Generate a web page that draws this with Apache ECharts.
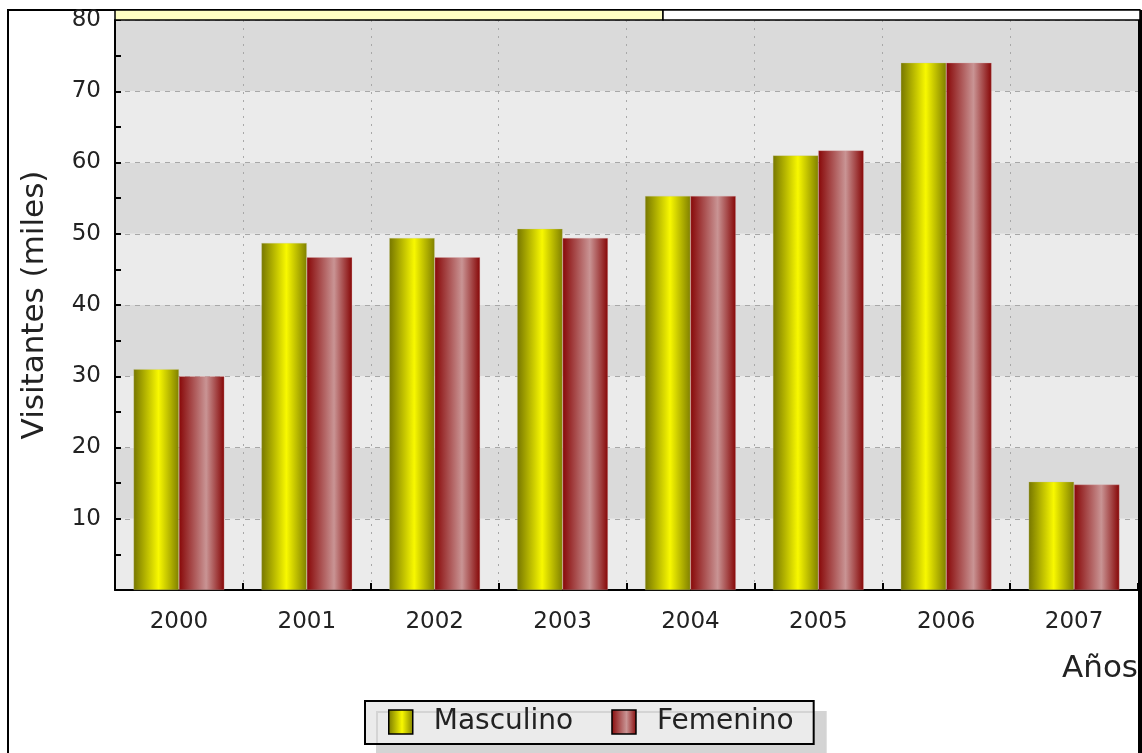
<!DOCTYPE html>
<html>
<head>
<meta charset="utf-8">
<title>Visitantes</title>
<script src="https://cdn.jsdelivr.net/npm/echarts@6/dist/echarts.min.js"></script>
<style>
  html, body { margin: 0; padding: 0; background: #fff; }
  #chart { width: 1142px; height: 753px; }
</style>
</head>
<body>
<div id="chart"></div>
<script>
// datos
var years = ['2000', '2001', '2002', '2003', '2004', '2005', '2006', '2007'];
var masculino = [31, 48.7, 49.4, 50.7, 55.3, 61, 74, 15.2];
var femenino = [30, 46.7, 46.7, 49.4, 55.3, 61.7, 74, 14.8];
var seriesNames = ['Masculino', 'Femenino'];

var FONT = 'DejaVu Sans';

function grad(stops) {
  return new echarts.graphic.LinearGradient(0, 0, 1, 0, stops);
}
var yellowFill = grad([
  { offset: 0, color: '#767600' },
  { offset: 0.55, color: '#f8f800' },
  { offset: 1, color: '#808000' }
]);
var redFill = grad([
  { offset: 0, color: '#880808' },
  { offset: 0.6, color: '#c99494' },
  { offset: 1, color: '#860606' }
]);

var myChart = echarts.init(document.getElementById('chart'));

var option = {
  animation: false,
  backgroundColor: '#ffffff',
  textStyle: { fontFamily: FONT },
  grid: { left: 115, right: 4, top: 20, bottom: 163, outerBoundsMode: 'none', containLabel: false },
  graphic: [
    // marco exterior
    { type: 'rect', z: 0, shape: { x: 8, y: 10, width: 1131, height: 800 },
      style: { fill: 'none', stroke: '#000', lineWidth: 2 } },
    { type: 'rect', z: 10, shape: { x: 1138, y: 10, width: 4, height: 760 },
      style: { fill: '#000' } },
    // barra superior
    { type: 'rect', z: 10, shape: { x: 115, y: 10, width: 548, height: 10 },
      style: { fill: '#ffffc4', stroke: '#000', lineWidth: 1.5 } },
    { type: 'rect', z: 10, shape: { x: 663, y: 10, width: 477, height: 10 },
      style: { fill: '#ffffff', stroke: '#000', lineWidth: 1.5 } }
  ],
  legend: {
    data: seriesNames,
    left: 365,
    top: 701,
    orient: 'horizontal',
    itemWidth: 24,
    itemHeight: 24,
    itemGap: 38,
    padding: [7, 20, 8, 23],
    backgroundColor: '#ebebeb',
    borderColor: '#000',
    borderWidth: 2,
    borderRadius: 0,
    shadowColor: '#d4d4d4',
    shadowBlur: 0,
    shadowOffsetX: 12,
    shadowOffsetY: 11,
    icon: 'rect',
    itemStyle: { borderColor: '#000', borderWidth: 1.5 },
    textStyle: { fontFamily: FONT, fontSize: 28, color: '#222', padding: [0, 0, 0, 16] }
  },
  xAxis: {
    type: 'category',
    data: years,
    name: 'Años',
    nameLocation: 'end',
    nameGap: 0,
    nameTextStyle: { fontFamily: FONT, fontSize: 31, color: '#222', align: 'right', verticalAlign: 'top', padding: [63, 0, 0, 0] },
    axisLine: { lineStyle: { color: '#000', width: 2 } },
    axisTick: { show: true, inside: true, length: 7, lineStyle: { color: '#000', width: 2 } },
    axisLabel: { fontFamily: FONT, fontSize: 23, color: '#222', margin: 21 },
    splitLine: { show: true, lineStyle: { color: '#a8a8a8', type: [2, 6], width: 1 } }
  },
  yAxis: {
    type: 'value',
    min: 0,
    max: 80,
    interval: 10,
    name: 'Visitantes (miles)',
    nameLocation: 'middle',
    nameGap: 65,
    nameTextStyle: { fontFamily: FONT, fontSize: 31, color: '#222' },
    axisLine: { show: true, lineStyle: { color: '#000', width: 2 } },
    axisTick: { show: true, inside: true, length: 6, lineStyle: { color: '#000', width: 2 } },
    minorTick: { show: true, splitNumber: 2, length: 6, lineStyle: { color: '#000', width: 2 } },
    axisLabel: {
      fontFamily: FONT, fontSize: 23, color: '#222', margin: 14,
      formatter: function (v) { return v === 0 ? '' : String(v); }
    },
    splitLine: { show: true, lineStyle: { color: '#a8a8a8', type: [5, 5], width: 1 } },
    splitArea: { show: true, areaStyle: { color: ['#ebebeb', '#dadada'] } }
  },
  series: [
    {
      name: seriesNames[0],
      type: 'bar',
      data: masculino,
      barGap: '0%',
      barCategoryGap: '29%',
      itemStyle: { color: yellowFill, borderColor: 'rgba(200,200,150,0.6)', borderWidth: 0.5 }
    },
    {
      name: seriesNames[1],
      type: 'bar',
      data: femenino,
      barGap: '0%',
      barCategoryGap: '29%',
      itemStyle: { color: redFill, borderColor: 'rgba(220,170,170,0.6)', borderWidth: 0.5 }
    }
  ]
};

myChart.setOption(option);
</script>
</body>
</html>
